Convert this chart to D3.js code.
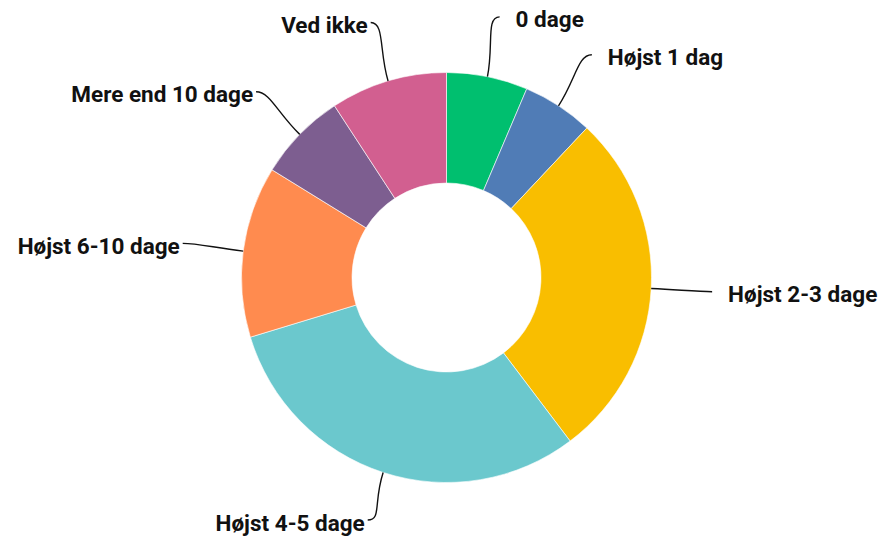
<!DOCTYPE html>
<html>
<head>
<meta charset="utf-8">
<script src="https://cdn.jsdelivr.net/npm/d3@7"></script>
<style>
  body { margin: 0; background: #fff; }
  .label { font-family: Roboto, sans-serif; font-weight: 700; font-size: 22.5px; fill: #111; }
</style>
</head>
<body>
<script>
// Data (share of answers, %)
var categories = ["0 dage", "Højst 1 dag", "Højst 2-3 dage", "Højst 4-5 dage", "Højst 6-10 dage", "Mere end 10 dage", "Ved ikke"];
var values = [6.4, 5.6, 27.7, 30.6, 13.5, 7.0, 9.2];
var colors = ["#00bf6f", "#507cb6", "#f9be00", "#6bc8cd", "#ff8b4f", "#7d5e90", "#d25f90"];

var width = 882;
var height = 540;
var cx = 446.5, cy = 277.5;
var outerR = 205, innerR = 94.5, labelR = 266;
var maxLabelY = height - cy - 20;

var data = categories.map(function(c, i) {
    return { name: c, value: values[i], color: colors[i] };
});

var pie = d3.pie()
    .sort(null)
    .value(function(d) { return d.value; });

var arc = d3.arc()
    .innerRadius(innerR)
    .outerRadius(outerR);

var svg = d3.select("body")
    .append("svg")
    .attr("width", width)
    .attr("height", height);

var g = svg.append("g")
    .attr("transform", "translate(" + cx + "," + cy + ")");

var arcs = pie(data);

g.selectAll("path.slice")
    .data(arcs)
    .enter().append("path")
    .attr("class", "slice")
    .attr("d", arc)
    .attr("fill", function(d) { return d.data.color; })
    .attr("stroke", "#fff")
    .attr("stroke-width", 0.6);

function polar(a, r) {
    return [Math.sin(a) * r, -Math.cos(a) * r];
}

function midAngle(d) {
    return (d.startAngle + d.endAngle) / 2;
}

//label anchor on the label circle, pulled in if it would fall off the bottom
function anchor(d) {
    var mid = midAngle(d);
    var r = labelR;
    if (-Math.cos(mid) * r > maxLabelY) r = maxLabelY / -Math.cos(mid);
    return polar(mid, r);
}

//Leader lines: start radially, end horizontally next to the label
g.selectAll("path.leader")
    .data(arcs)
    .enter().append("path")
    .attr("class", "leader")
    .attr("fill", "none")
    .attr("stroke", "#111")
    .attr("stroke-width", 1.4)
    .attr("d", function(d) {
        var mid = midAngle(d);
        var side = mid < Math.PI ? 1 : -1;
        var p0 = polar(mid, outerR);
        var p1 = polar(mid, outerR + 32);
        var p3 = anchor(d);
        var p = d3.path();
        p.moveTo(p0[0], p0[1]);
        p.bezierCurveTo(p1[0], p1[1], p3[0] - side * 14, p3[1], p3[0], p3[1]);
        return p.toString();
    });

g.selectAll("text.label")
    .data(arcs)
    .enter().append("text")
    .attr("class", "label")
    .attr("x", function(d) {
        var p = anchor(d);
        return midAngle(d) < Math.PI ? p[0] + 16 : p[0] - 3;
    })
    .attr("y", function(d) { return anchor(d)[1] + 10.5; })
    .attr("text-anchor", function(d) {
        return midAngle(d) < Math.PI ? "start" : "end";
    })
    .text(function(d) { return d.data.name; });
</script>
</body>
</html>
